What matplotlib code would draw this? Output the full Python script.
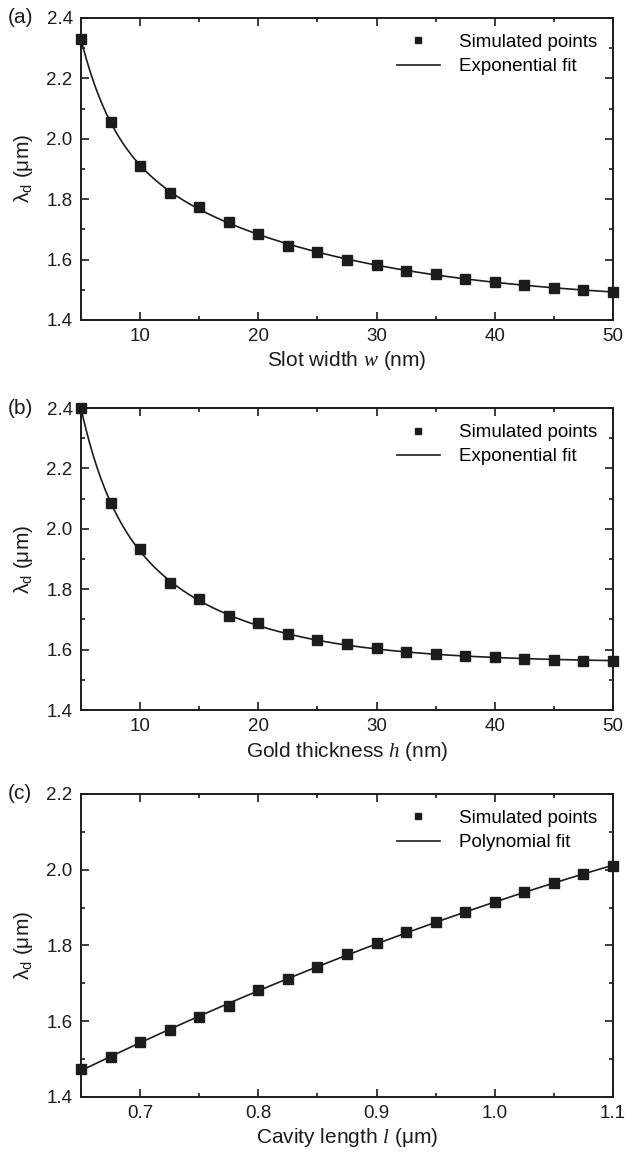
import numpy as np
import matplotlib
matplotlib.use("Agg")
import matplotlib.pyplot as plt
from matplotlib.ticker import MultipleLocator

plt.rcParams['font.family'] = ['Liberation Sans', 'DejaVu Sans']
plt.rcParams['mathtext.fontset'] = 'custom'
plt.rcParams['mathtext.rm'] = 'Liberation Sans'
plt.rcParams['mathtext.it'] = 'Liberation Serif:italic'

# panel (a): slot width sweep
w_nm = [5, 7.5, 10, 12.5, 15, 17.5, 20, 22.5, 25, 27.5, 30, 32.5, 35, 37.5, 40, 42.5, 45, 47.5, 50]
lam_a = [2.330, 2.055, 1.910, 1.822, 1.774, 1.725, 1.684, 1.646, 1.625, 1.598, 1.582, 1.563, 1.552,
         1.537, 1.525, 1.516, 1.507, 1.499, 1.491]

# panel (b): gold thickness sweep
h_nm = [5, 7.5, 10, 12.5, 15, 17.5, 20, 22.5, 25, 27.5, 30, 32.5, 35, 37.5, 40, 42.5, 45, 47.5, 50]
lam_b = [2.400, 2.084, 1.932, 1.821, 1.766, 1.710, 1.687, 1.651, 1.632, 1.617, 1.604, 1.593, 1.585,
         1.579, 1.575, 1.569, 1.566, 1.563, 1.561]

# panel (c): cavity length sweep
l_um = [0.65, 0.675, 0.7, 0.725, 0.75, 0.775, 0.8, 0.825, 0.85, 0.875, 0.9, 0.925, 0.95, 0.975,
        1.0, 1.025, 1.05, 1.075, 1.1]
lam_c = [1.474, 1.505, 1.545, 1.577, 1.611, 1.640, 1.683, 1.712, 1.742, 1.778, 1.806, 1.836, 1.861,
         1.888, 1.915, 1.940, 1.965, 1.989, 2.010]

INK = '#1c1c1c'


def exp_fit(x, y):
    # y = y0 + A1*exp(-x/t1) + A2*exp(-x/t2), grid over decay lengths
    x = np.asarray(x, float)
    y = np.asarray(y, float)
    best = None
    for t1 in np.linspace(0.5, 10, 40):
        for t2 in np.linspace(5, 60, 45):
            M = np.column_stack([np.ones_like(x), np.exp(-x / t1), np.exp(-x / t2)])
            coef, *_ = np.linalg.lstsq(M, y, rcond=None)
            err = np.sum((M @ coef - y) ** 2)
            if best is None or err < best[0]:
                best = (err, t1, t2, coef)
    _, t1, t2, c = best
    xs = np.linspace(x.min(), x.max(), 400)
    return xs, c[0] + c[1] * np.exp(-xs / t1) + c[2] * np.exp(-xs / t2)


def poly_fit(x, y):
    p = np.polyfit(x, y, 2)
    xs = np.linspace(min(x), max(x), 400)
    return xs, np.polyval(p, xs)


def style(ax, xmaj, xmin_, ymaj, ymin_):
    ax.xaxis.set_major_locator(MultipleLocator(xmaj))
    ax.xaxis.set_minor_locator(MultipleLocator(xmin_))
    ax.yaxis.set_major_locator(MultipleLocator(ymaj))
    ax.yaxis.set_minor_locator(MultipleLocator(ymin_))
    ax.tick_params(which='both', direction='in', top=True, right=True, color=INK, width=1.2)
    ax.tick_params(which='major', length=6, labelsize=13.5, pad=6, labelcolor=INK)
    ax.tick_params(which='minor', length=3)
    for s in ax.spines.values():
        s.set_linewidth(1.4)
        s.set_color(INK)


fig = plt.figure(figsize=(6.26, 11.53), dpi=100)
axes = [fig.add_axes([0.1294, 0.7225, 0.8498, 0.2619]),
        fig.add_axes([0.1294, 0.3842, 0.8498, 0.2619]),
        fig.add_axes([0.1294, 0.0486, 0.8498, 0.2628])]

panels = [
    (w_nm, lam_a, exp_fit, 'Exponential fit', 'Slot width $w$ (nm)', (5, 50), (1.4, 2.4), 10, 5, '(a)'),
    (h_nm, lam_b, exp_fit, 'Exponential fit', 'Gold thickness $h$ (nm)', (5, 50), (1.4, 2.4), 10, 5, '(b)'),
    (l_um, lam_c, poly_fit, 'Polynomial fit', 'Cavity length $l$ (μm)', (0.65, 1.1), (1.4, 2.2), 0.1, 0.05, '(c)'),
]

for ax, (x, y, fitter, fitlab, xlab, xlim, ylim, xmaj, xmn, tag) in zip(axes, panels):
    xs, ys = fitter(x, y)
    ax.plot(x, y, 's', color=INK, ms=6.5, clip_on=False, zorder=3, label='Simulated points')
    ax.plot(xs, ys, '-', color=INK, lw=1.2, zorder=2, label=fitlab)
    ax.set_xlim(*xlim)
    ax.set_ylim(*ylim)
    style(ax, xmaj, xmn, 0.2, 0.1)
    ax.set_xlabel(xlab, fontsize=15, color=INK, labelpad=3)
    ax.set_ylabel('λ$_{\\rm d}$ (μm)', fontsize=15, color=INK, labelpad=8)
    ax.legend(loc='upper right', frameon=False, fontsize=13.5, markerscale=0.75,
              handlelength=2.3, handletextpad=1.0, borderaxespad=0.45, labelspacing=0.38)
    ax.text(-0.137, 1.0, tag, transform=ax.transAxes, fontsize=15, color=INK,
            ha='left', va='center')

fig.savefig('out.png', dpi=100)
